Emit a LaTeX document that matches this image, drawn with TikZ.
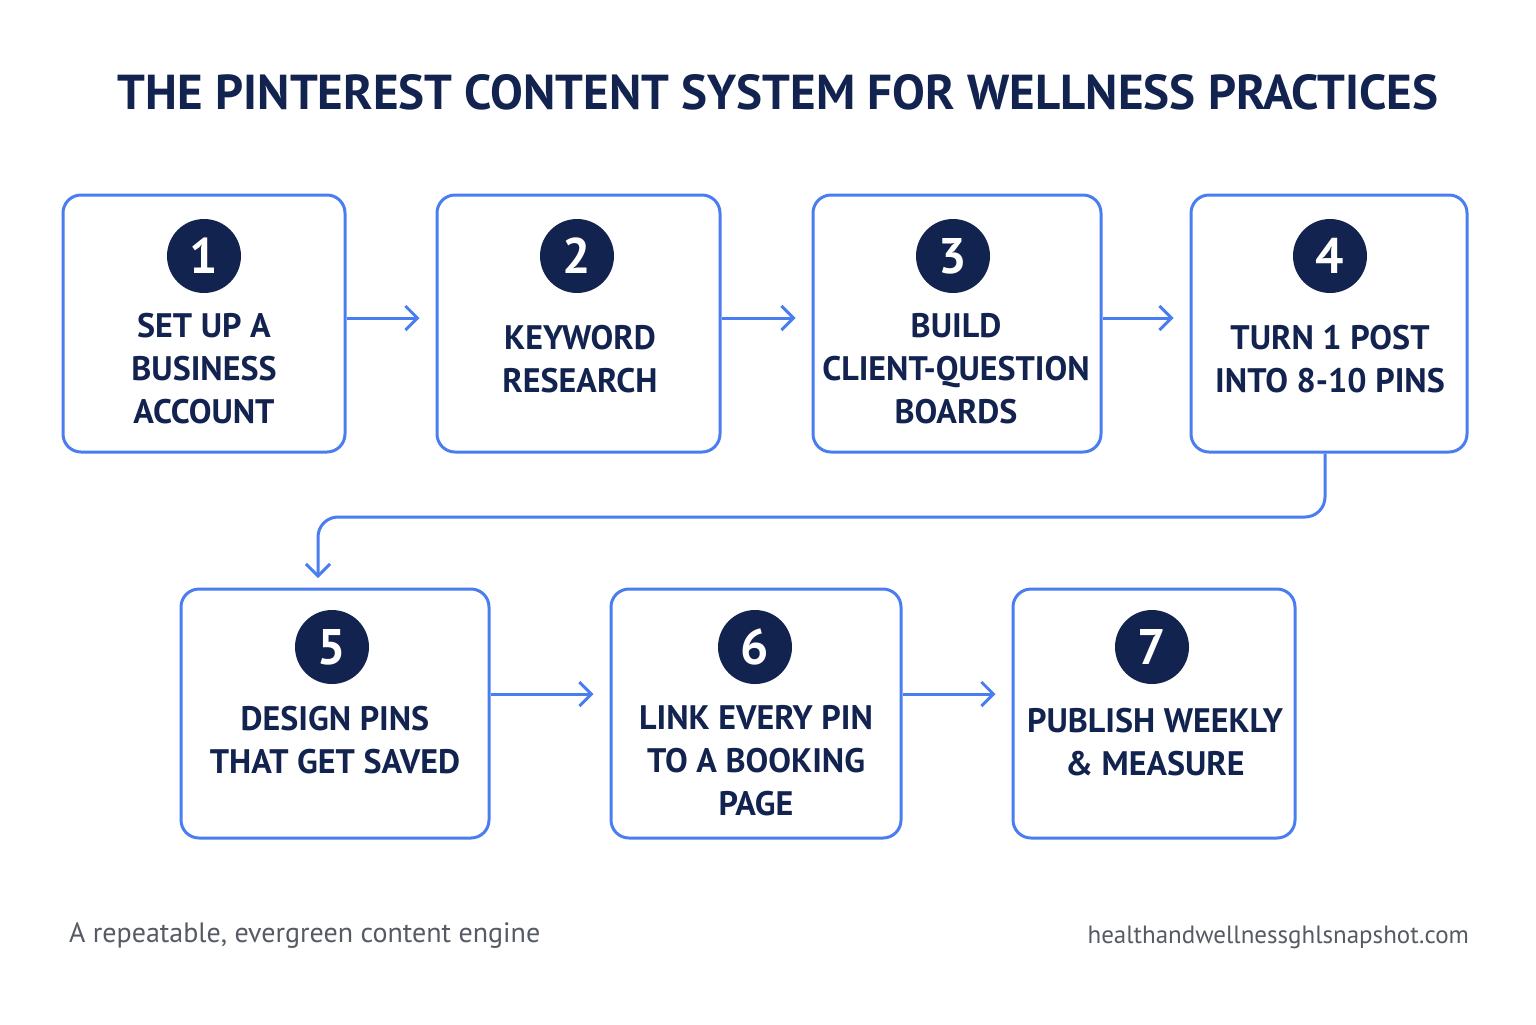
\documentclass[tikz,border=0pt]{standalone}
\usepackage{fontspec}
\setmainfont{PT Sans}
\usetikzlibrary{arrows.meta}
\definecolor{navy}{HTML}{13234F}
\definecolor{flowblue}{HTML}{4A7EF0}
\definecolor{footgray}{HTML}{555A63}
\tikzset{
  stepbox/.style={draw=flowblue, line width=1.5pt, rounded corners=9pt, fill=white},
  num/.style={circle, fill=navy, text=white, minimum size=37pt, inner sep=0pt,
    font=\fontsize{25}{25}\selectfont\bfseries},
  lbl/.style={text=navy, align=center, font=\fontsize{17}{21.5}\selectfont\bfseries},
  flow/.style={draw=flowblue, line width=1.5pt, -{Straight Barb[length=6pt,width=12pt]}},
}
\begin{document}
\begin{tikzpicture}[x=0.5pt,y=-0.5pt]
\useasboundingbox[fill=white] (0,0) rectangle (1536,1024);
\node[text=navy, font=\bfseries] (title) at (778,92)
  {\resizebox{660pt}{!}{\fontsize{31}{31}\selectfont THE PINTEREST CONTENT SYSTEM FOR WELLNESS PRACTICES}};
% first row
\node[stepbox, minimum width=141pt, minimum height=128.5pt] (b1) at (204,323.5) {};
\node[stepbox, minimum width=141.5pt, minimum height=128.5pt] (b2) at (578.5,323.5) {};
\node[stepbox, minimum width=144pt, minimum height=128.5pt] (b3) at (957,323.5) {};
\node[stepbox, minimum width=138pt, minimum height=128.5pt] (b4) at (1329,323.5) {};
% second row
\node[stepbox, minimum width=154pt, minimum height=124.5pt] (b5) at (335,713.5) {};
\node[stepbox, minimum width=145pt, minimum height=124.5pt] (b6) at (756,713.5) {};
\node[stepbox, minimum width=141pt, minimum height=124.5pt] (b7) at (1154,713.5) {};
\node[num] (n1) at (204,256) {1};
\node[num] (n2) at (577,256) {2};
\node[num] (n3) at (953,256) {3};
\node[num] (n4) at (1330,256) {4};
\node[num] (n5) at (332,647) {5};
\node[num] (n6) at (755,647) {6};
\node[num] (n7) at (1152,647) {7};
\node[lbl] (t1) at (204,369) {SET UP A\\BUSINESS\\ACCOUNT};
\node[lbl] (t2) at (580,359) {KEYWORD\\RESEARCH};
\node[lbl] (t3) at (956,369) {BUILD\\CLIENT-QUESTION\\BOARDS};
\node[lbl] (t4) at (1330,359) {TURN 1 POST\\INTO 8-10 PINS};
\node[lbl] (t5) at (335,740) {DESIGN PINS\\THAT GET SAVED};
\node[lbl] (t6) at (756,761) {LINK EVERY PIN\\TO A BOOKING\\PAGE};
\node[lbl] (t7) at (1155,742) {PUBLISH WEEKLY\\\& MEASURE};
\coordinate (c5) at (318,578);
\draw[flow] (b1.east |- 0,318) -- ([xshift=-8pt]b2.west |- 0,318);
\draw[flow] (b2.east |- 0,318) -- ([xshift=-8pt]b3.west |- 0,318);
\draw[flow] (b3.east |- 0,318) -- ([xshift=-8pt]b4.west |- 0,318);
\draw[flow, rounded corners=10pt] (b4.south -| 1325,0) -- (1325,517) -- (318,517) -- (c5);
\draw[flow] (b5.east |- 0,694) -- ([xshift=-8pt]b6.west |- 0,694);
\draw[flow] (b6.east |- 0,694) -- ([xshift=-8pt]b7.west |- 0,694);
\node[anchor=west, text=footgray, font=\fontsize{14}{14}\selectfont] (foot) at (62,935)
  {A repeatable, evergreen content engine};
\node[anchor=east, text=footgray, font=\fontsize{12.5}{12.5}\selectfont] (site) at (1476,937)
  {healthandwellnessghlsnapshot.com};
\end{tikzpicture}
\end{document}
